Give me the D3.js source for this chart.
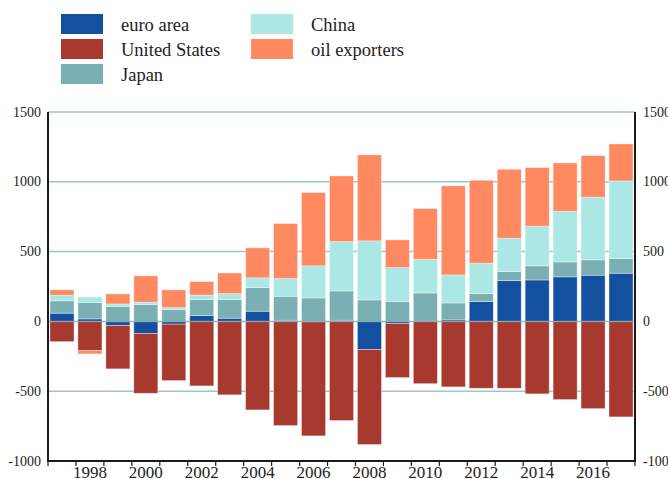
<!DOCTYPE html>
<html>
<head>
<meta charset="utf-8">
<script src="https://cdn.jsdelivr.net/npm/d3@7"></script>
<style>
  html, body { margin: 0; padding: 0; background: #fff; }
  svg { display: block; }
  svg text { font-family: "Liberation Serif", "DejaVu Serif", serif; }
</style>
</head>
<body>
<svg id="chart" width="668" height="479"></svg>
<script>
// Current account balances, billions of US dollars
const years = d3.range(1997, 2018);
const euroArea     = [59, 18, -30, -87, -20, 42, 23, 73, 8, -3, 8, -202, -16, 2, 11, 142, 292, 297, 319, 331, 345];
const unitedStates = [-145, -209, -310, -428, -404, -462, -526, -634, -746, -817, -710, -680, -386, -446, -469, -479, -479, -519, -560, -625, -684];
const japan        = [88, 117, 106, 120, 85, 114, 133, 169, 172, 168, 210, 154, 142, 202, 121, 57, 65, 101, 107, 110, 105];
const china        = [41, 40, 19, 17, 14, 32, 43, 70, 127, 230, 354, 423, 243, 241, 201, 218, 239, 284, 363, 449, 556];
const oilExporters = [38, -24, 72, 189, 127, 97, 148, 215, 394, 525, 470, 616, 199, 363, 638, 594, 494, 420, 346, 298, 265];

const seriesNames  = ["euro area", "United States", "Japan", "China", "oil exporters"];
const seriesColors = ["#1450a0", "#a7392e", "#7aafb4", "#abe7e5", "#ff8a62"];
const yTicks = [-1000, -500, 0, 500, 1000, 1500];
const xLabelYears = d3.range(1998, 2017, 2);

const seriesValues = [euroArea, unitedStates, japan, china, oilExporters];
const rows = years.map((yr, i) => {
  const r = { year: yr };
  seriesNames.forEach((n, k) => { r[n] = seriesValues[k][i]; });
  return r;
});

const svg = d3.select("#chart");
const plot = { left: 48, right: 635, top: 112, bottom: 461 };

const x = d3.scaleBand()
  .domain(years)
  .range([plot.left, plot.right])
  .paddingInner(0.14)
  .paddingOuter(0.07);

const y = d3.scaleLinear()
  .domain([-1000, 1500])
  .range([plot.bottom, plot.top]);

const color = d3.scaleOrdinal().domain(seriesNames).range(seriesColors);

// gridlines behind the bars
svg.append("g")
  .selectAll("line")
  .data(yTicks.filter(t => t !== -1000 && t !== 0))
  .join("line")
  .attr("x1", plot.left).attr("x2", plot.right)
  .attr("y1", d => y(d)).attr("y2", d => y(d))
  .attr("stroke", "#9cc6ca")
  .attr("stroke-width", 1.5);

// stacked bars, positives upward and negatives downward from zero
const stack = d3.stack()
  .keys(seriesNames)
  .offset(d3.stackOffsetDiverging);
const layers = stack(rows);

svg.append("g")
  .selectAll("g")
  .data(layers)
  .join("g")
  .attr("fill", d => color(d.key))
  .selectAll("rect")
  .data(d => d)
  .join("rect")
  .attr("x", d => x(d.data.year))
  .attr("width", x.bandwidth())
  .attr("y", d => y(Math.max(d[0], d[1])))
  .attr("height", d => Math.abs(y(d[0]) - y(d[1])))
  .attr("stroke", "rgba(255,255,255,0.45)")
  .attr("stroke-width", 0.8);

// zero line drawn over the bars
svg.append("line")
  .attr("x1", plot.left).attr("x2", plot.right)
  .attr("y1", y(0)).attr("y2", y(0))
  .attr("stroke", "#7f9fa6")
  .attr("stroke-opacity", 0.75)
  .attr("stroke-width", 1.5);

// frame: left, right and bottom axis lines
const frame = svg.append("g").attr("stroke", "#1a1a1a").attr("stroke-width", 2);
frame.append("line").attr("x1", plot.left).attr("x2", plot.left).attr("y1", plot.top).attr("y2", plot.bottom + 1);
frame.append("line").attr("x1", plot.right).attr("x2", plot.right).attr("y1", plot.top).attr("y2", plot.bottom + 1);
frame.append("line").attr("x1", plot.left - 1).attr("x2", plot.right + 1).attr("y1", plot.bottom).attr("y2", plot.bottom);

// tick marks at the boundaries between years
const boundaries = d3.range(years.length + 1).map(i => plot.left + i * (plot.right - plot.left) / years.length);
svg.append("g")
  .selectAll("line")
  .data(boundaries)
  .join("line")
  .attr("x1", d => d).attr("x2", d => d)
  .attr("y1", plot.bottom).attr("y2", plot.bottom + 5)
  .attr("stroke", "#1a1a1a")
  .attr("stroke-width", 1.2);

// year labels centred under every second bar
svg.append("g")
  .selectAll("text")
  .data(xLabelYears)
  .join("text")
  .attr("x", d => x(d) + x.bandwidth() / 2)
  .attr("y", 478)
  .attr("text-anchor", "middle")
  .attr("font-size", 17)
  .attr("fill", "#222")
  .text(d => d);

// value labels on both sides
const yLabelStyle = sel => sel
  .attr("font-size", 14)
  .attr("fill", "#222")
  .attr("dominant-baseline", "central");

svg.append("g")
  .selectAll("text")
  .data(yTicks)
  .join("text")
  .attr("x", 41)
  .attr("y", d => y(d))
  .attr("text-anchor", "end")
  .call(yLabelStyle)
  .text(d => d);

svg.append("g")
  .selectAll("text")
  .data(yTicks)
  .join("text")
  .attr("x", 643)
  .attr("y", d => y(d))
  .attr("text-anchor", "start")
  .call(yLabelStyle)
  .text(d => d);

// legend in two columns
const legendPos = [
  { x: 61, y: 14 }, { x: 61, y: 39 }, { x: 61, y: 64 },
  { x: 251, y: 14 }, { x: 251, y: 39 }
];
const legend = svg.append("g")
  .selectAll("g")
  .data(seriesNames)
  .join("g")
  .attr("transform", (d, i) => `translate(${legendPos[i].x},${legendPos[i].y})`);
legend.append("rect")
  .attr("width", 42)
  .attr("height", 20)
  .attr("fill", d => color(d));
legend.append("text")
  .attr("x", 60)
  .attr("y", 16.7)
  .attr("font-size", 18.5)
  .attr("fill", "#222")
  .text(d => d);
</script>
</body>
</html>
